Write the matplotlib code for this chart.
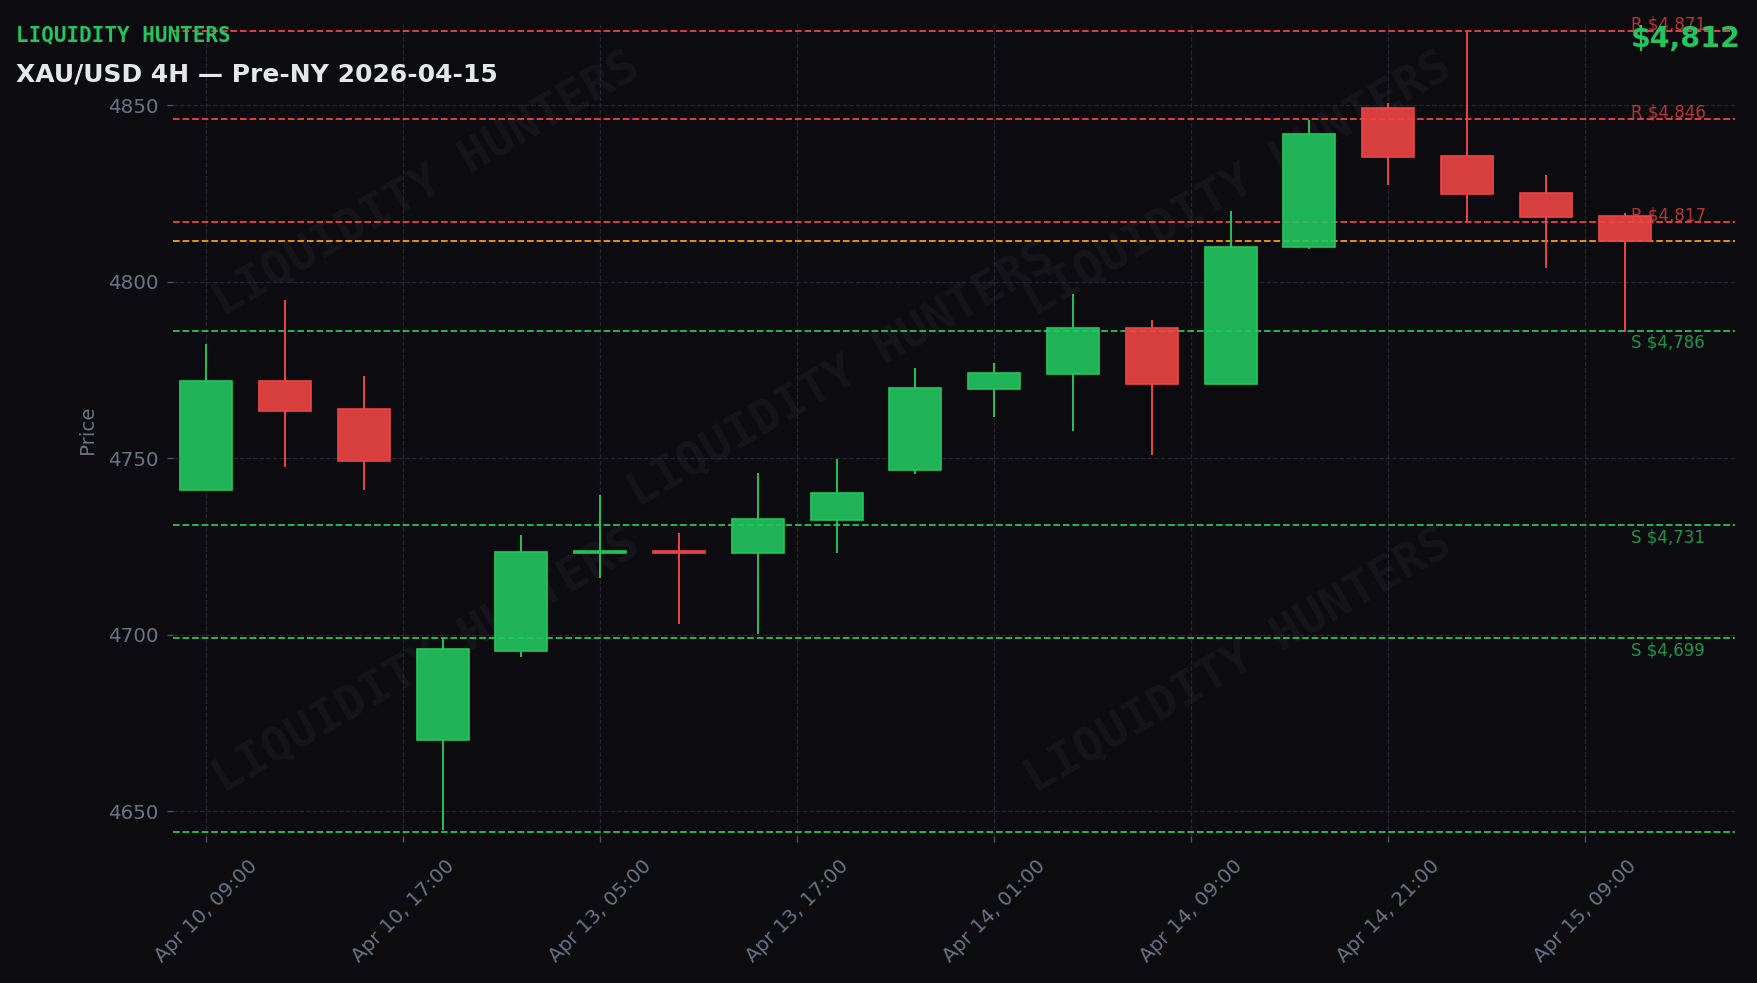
import matplotlib
matplotlib.use("Agg")
import matplotlib.pyplot as plt
from matplotlib.patches import Rectangle
from matplotlib.ticker import MultipleLocator, FuncFormatter
from matplotlib.colors import to_rgba
import numpy as np
import pandas as pd

# ---------------- data ----------------
times = ["2026-04-10 09:00", "2026-04-10 13:00", "2026-04-10 17:00", "2026-04-10 21:00",
         "2026-04-13 01:00", "2026-04-13 05:00", "2026-04-13 09:00", "2026-04-13 13:00",
         "2026-04-13 17:00", "2026-04-13 21:00", "2026-04-14 01:00", "2026-04-14 05:00",
         "2026-04-14 09:00", "2026-04-14 13:00", "2026-04-14 17:00", "2026-04-14 21:00",
         "2026-04-15 01:00", "2026-04-15 05:00", "2026-04-15 09:00"]
opens = [4740.9, 4772.0, 4763.9, 4670.3, 4695.5, 4723.3, 4723.6, 4723.1, 4732.6, 4746.6,
         4769.7, 4774.0, 4787.0, 4771.1, 4809.7, 4849.2, 4835.6, 4825.1, 4818.6]
highs = [4782.4, 4794.7, 4773.3, 4699.0, 4728.3, 4739.6, 4728.7, 4745.8, 4749.8, 4775.7,
         4777.1, 4796.4, 4789.1, 4820.0, 4845.7, 4850.7, 4870.7, 4830.3, 4819.4]
lows = [4740.9, 4747.4, 4741.0, 4644.7, 4693.8, 4716.1, 4703.0, 4700.2, 4723.2, 4745.6,
        4761.6, 4757.7, 4751.0, 4771.0, 4809.4, 4827.3, 4817.0, 4804.0, 4785.8]
closes = [4772.0, 4763.5, 4749.3, 4695.9, 4723.4, 4723.8, 4723.2, 4732.9, 4740.1, 4770.0,
          4774.1, 4787.0, 4771.1, 4809.9, 4841.9, 4835.3, 4824.8, 4818.2, 4811.6]
resistance = [4871, 4846, 4817]
support = [4786, 4731, 4699, 4644]

brand = "LIQUIDITY HUNTERS"
title = "XAU/USD 4H — Pre-NY 2026-04-15"

# ---------------- style ----------------
BG = "#0b0b10"
UP = "#22c55e"
DOWN = "#ef4444"
ORANGE = "#f59e0b"
GRAY = "#6b7280"
GRID = "#23242d"

tick_labels = pd.to_datetime(pd.Series(times)).dt.strftime("%b %d, %H:%M").tolist()
current = closes[-1]
n = len(opens)

W, H = 1758, 983
fig = plt.figure(figsize=(W / 100, H / 100), dpi=100, facecolor=BG)
L, R, T, B = 173, 1735, 24, 836
ax = fig.add_axes([L / W, 1 - B / H, (R - L) / W, (B - T) / H])
ax.set_facecolor(BG)

# watermark
for (wx, wy) in [(0.162, 0.802), (0.428, 0.567), (0.682, 0.802), (0.162, 0.215), (0.682, 0.215)]:
    ax.text(wx, wy, brand, transform=ax.transAxes, rotation=30, ha="center", va="center",
            fontsize=34, family="DejaVu Sans Mono", weight="bold", color="white",
            alpha=0.045, zorder=0)

# grid
ax.grid(True, color=GRID, linestyle="--", linewidth=0.9, zorder=0.5)
ax.set_axisbelow(True)

# levels
for v in resistance:
    ax.axhline(v, color=DOWN, ls="--", lw=1.3, zorder=2)
    ax.annotate(f"R ${v:,.0f}", xy=(18.08, v), xytext=(0, 1), textcoords="offset points",
                ha="left", va="baseline", fontsize=12, color=DOWN, alpha=0.75,
                annotation_clip=False, zorder=2)
for v in support:
    ax.axhline(v, color=UP, ls="--", lw=1.3, zorder=2)
    ax.annotate(f"S ${v:,.0f}", xy=(18.08, v), xytext=(0, -2), textcoords="offset points",
                ha="left", va="top", fontsize=12, color=UP, alpha=0.75,
                annotation_clip=True, clip_on=True, zorder=2)
ax.axhline(current, color=ORANGE, ls="--", lw=1.3, zorder=2)

# candles
w = 0.66
for i in range(n):
    o, h, l, c = opens[i], highs[i], lows[i], closes[i]
    col = UP if c >= o else DOWN
    top, bot = max(o, c), min(o, c)
    ax.vlines(i, top, h, color=col, lw=1.4, zorder=3)
    ax.vlines(i, l, bot, color=col, lw=1.4, zorder=3)
    ax.add_patch(Rectangle((i - w / 2, bot), w, max(top - bot, 0.3),
                           facecolor=to_rgba(col, 0.9), edgecolor=col, lw=1.2, zorder=4))

ax.set_xlim(-0.42, 19.40)
ax.set_ylim(4643, 4873)

ax.xaxis.set_major_locator(MultipleLocator(2.5))


def fmt(v, pos=None):
    k = int(round(v))
    if 0 <= k < n:
        return tick_labels[k]
    return ""


ax.xaxis.set_major_formatter(FuncFormatter(fmt))
ax.yaxis.set_major_locator(MultipleLocator(50))
ax.tick_params(axis="x", rotation=45, labelsize=14.3, colors=GRAY, length=4.3, pad=10, width=1)
ax.tick_params(axis="y", labelsize=14.3, colors=GRAY, length=4.3, pad=5.8, width=1)
ax.tick_params(axis="both", color="#4b5563")
for s in ax.spines.values():
    s.set_visible(False)
ax.set_ylabel("Price", color=GRAY, fontsize=14.3, labelpad=8)

# header texts
fig.text(15.6 / W, 1 - 41.7 / H, brand, ha="left", va="baseline", fontsize=15,
         family="DejaVu Sans Mono", weight="bold", color=UP)
fig.text(15.6 / W, 1 - 81.7 / H, title, ha="left", va="baseline", fontsize=18,
         weight="bold", color="#e5e7eb")
fig.text(1740.7 / W, 1 - 46.7 / H, f"${current:,.0f}", ha="right", va="baseline",
         fontsize=20.5, weight="bold", color=UP)

fig.savefig("out.png", dpi=100, facecolor=BG)
